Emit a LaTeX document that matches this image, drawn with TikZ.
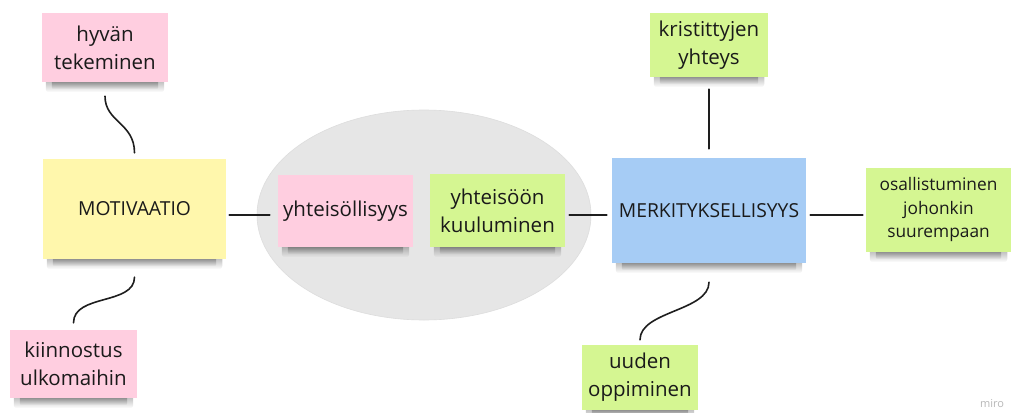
\documentclass[tikz,border=0pt]{standalone}
\usepackage{fontspec}
\setmainfont{Open Sans}
\usetikzlibrary{calc,fadings,shapes.geometric}
\definecolor{pinkS}{HTML}{FFCEE0}
\definecolor{yellowS}{HTML}{FFF7AC}
\definecolor{greenS}{HTML}{D5F692}
\definecolor{blueS}{HTML}{A6CCF5}
\definecolor{ellS}{HTML}{E6E6E6}
\definecolor{ellE}{HTML}{DDDDDD}
\definecolor{txt}{HTML}{1A1A1A}
\definecolor{lin}{HTML}{1E1E1E}
\pgfdeclarelayer{bgzero}
\pgfdeclarelayer{bgone}
\pgfsetlayers{bgzero,bgone,main}
\newcommand\stickyshadow[1]{%
  \begin{pgfonlayer}{bgone}
    \fill[black, opacity=0.30, path fading=south, rounded corners=3pt]
      ($(#1.south west)+(4,-3)$) rectangle ($(#1.south east)+(-4,10)$);
    \fill[black, opacity=0.35, path fading=south, rounded corners=2pt]
      ($(#1.south west)+(10,-3)$) rectangle ($(#1.south east)+(-10,7)$);
  \end{pgfonlayer}}
\tikzset{
  sticky/.style={inner sep=0pt, align=center, text=txt,
    font=\fontsize{20.5}{28}\selectfont},
  bigsticky/.style={sticky, font=\fontsize{19.3}{26}\selectfont},
  smallsticky/.style={sticky, font=\fontsize{17.3}{23.5}\selectfont},
  conn/.style={draw=lin, line width=1.6pt, line cap=round}
}
\begin{document}
\begin{tikzpicture}[x=1pt,y=-1pt]
\useasboundingbox (0,0) rectangle (1011,412);
% background and cluster ellipse
\begin{pgfonlayer}{bgzero}
\fill[white] (0,0) rectangle (1011,412);
\node[ellipse, fill=ellS, draw=ellE, line width=0.6pt, minimum width=334pt, minimum height=210pt, inner sep=0pt] (grp) at (424,215) {};
\end{pgfonlayer}
% stickies
\node[sticky, fill=pinkS, minimum width=126pt, minimum height=69pt] (hyvan) at (105,47.5) {hyvän\\tekeminen};
\node[bigsticky, fill=yellowS, minimum width=183pt, minimum height=100pt] (motiv) at (134.5,209) {MOTIVAATIO};
\node[sticky, fill=pinkS, minimum width=127pt, minimum height=68pt] (kiin) at (73.5,364) {kiinnostus\\ulkomaihin};
\node[sticky, fill=pinkS, minimum width=135pt, minimum height=72pt] (yhtsol) at (345.5,211) {yhteisöllisyys};
\node[sticky, fill=greenS, minimum width=135pt, minimum height=73pt] (yhtkuul) at (497.5,210.5) {yhteisöön\\kuuluminen};
\node[bigsticky, fill=blueS, minimum width=194pt, minimum height=105pt] (merk) at (709,210.5) {MERKITYKSELLISYYS};
\node[sticky, fill=greenS, minimum width=118pt, minimum height=64pt] (krist) at (709,45) {kristittyjen\\yhteys};
\node[smallsticky, fill=greenS, minimum width=145pt, minimum height=84pt] (osal) at (938.5,210) {osallistuminen\\johonkin\\suurempaan};
\node[sticky, fill=greenS, minimum width=116pt, minimum height=65pt] (uuden) at (640,377.5) {uuden\\oppiminen};
\foreach \n in {hyvan,motiv,kiin,yhtsol,yhtkuul,merk,krist,osal,uuden} {\stickyshadow{\n}}
% connectors
\draw[conn] ($(hyvan.south)+(0,14)$) .. controls ($(hyvan.south)+(0,40)$) and ($(motiv.north)+(0,-36)$) .. ($(motiv.north)+(0,-6)$);
\draw[conn] ($(motiv.south)+(0,18)$) .. controls ($(motiv.south)+(0,46)$) and ($(kiin.north)+(0,-36)$) .. ($(kiin.north)+(0,-7)$);
\draw[conn] ($(motiv.east)+(3,6)$) -- ($(yhtsol.west)+(-8,4)$);
\draw[conn] ($(yhtkuul.east)+(4,4.5)$) -- ($(merk.west)+(-5,4.5)$);
\draw[conn] ($(krist.south)+(0,12)$) -- ($(merk.north)+(0,-9)$);
\draw[conn] ($(merk.east)+(4,4.5)$) -- ($(osal.west)+(-3,5)$);
\draw[conn] ($(merk.south)+(0,19)$) .. controls ($(merk.south)+(0,48)$) and ($(uuden.north)+(0,-34)$) .. ($(uuden.north)+(0,-5)$);
% watermark
\node[text=black!28, font=\fontsize{11}{12}\selectfont, inner sep=0pt] (miro) at (992,404) {miro};
\end{tikzpicture}
\end{document}
